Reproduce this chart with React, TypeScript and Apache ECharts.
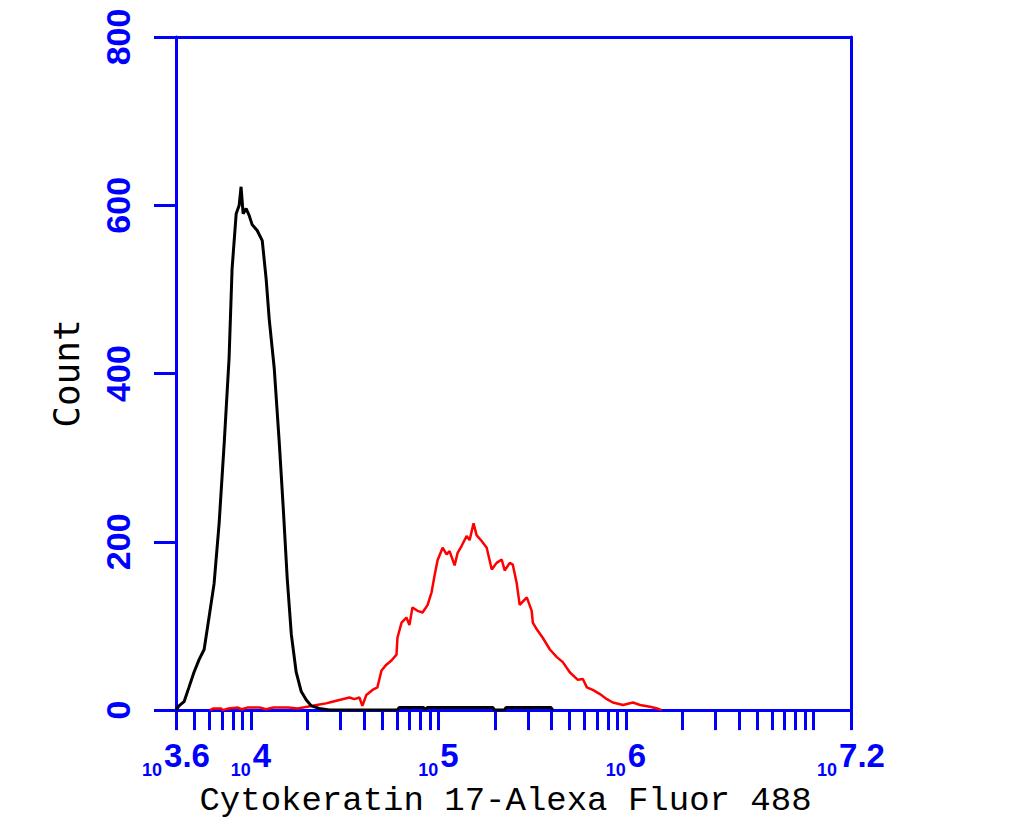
import React, { useEffect, useRef } from "react";
import * as echarts from "echarts";

// ---- data (x as log10 of fluorescence, y as count) ----
const isotypeLog = [
  3.600, 3.616, 3.643, 3.669, 3.696, 3.723, 3.750, 3.776, 3.803, 3.830,
  3.857, 3.883, 3.899, 3.921, 3.937, 3.947, 3.958, 3.974, 3.990, 4.006,
  4.033, 4.060, 4.081, 4.097, 4.124, 4.151, 4.172, 4.193, 4.215, 4.241,
  4.268, 4.295, 4.322, 4.364, 4.418, 4.780, 4.790, 4.920, 4.930, 4.940,
  5.290, 5.300, 5.350, 5.360, 5.600, 5.610,
];
const isotypeCount = [
  0, 5, 10, 27, 45, 60, 72, 110, 150, 222,
  317, 418, 524, 590, 600, 622, 590, 596, 588, 577,
  570, 558, 512, 465, 406, 317, 240, 157, 90, 45,
  22, 12, 5, 2, 0, 0, 3, 3, 1, 3,
  3, 0, 0, 3, 3, 0,
];

const ck17Log = [
  3.780, 3.800, 3.840, 3.850, 3.880, 3.930, 3.950, 3.980, 4.050, 4.080,
  4.120, 4.200, 4.250, 4.300, 4.350, 4.400,
  4.418, 4.471, 4.525, 4.551, 4.578, 4.594, 4.615, 4.648, 4.674, 4.696,
  4.722, 4.749, 4.776, 4.781, 4.803, 4.829, 4.845, 4.861, 4.888, 4.915,
  4.942, 4.963, 4.979, 4.995, 5.022, 5.043, 5.059, 5.086, 5.102, 5.123,
  5.150, 5.166, 5.187, 5.203, 5.230, 5.257, 5.284, 5.310, 5.337, 5.353,
  5.380, 5.396, 5.417, 5.433, 5.471, 5.497, 5.503, 5.524, 5.556, 5.594,
  5.631, 5.663, 5.700, 5.743, 5.770, 5.791, 5.823, 5.861, 5.898, 5.930,
  5.984, 6.037, 6.075, 6.128, 6.166, 6.190,
];
const ck17Count = [
  0, 2, 2, 0, 2, 3, 1, 3, 3, 1,
  3, 3, 2, 4, 6, 8,
  9, 12, 15, 13, 15, 5, 18, 24, 27, 47,
  54, 59, 66, 86, 104, 110, 101, 122, 118, 116,
  125, 140, 160, 178, 193, 185, 189, 172, 187, 195,
  207, 202, 222, 208, 201, 193, 167, 175, 179, 166,
  175, 173, 151, 125, 134, 118, 104, 96, 86, 72,
  63, 57, 45, 36, 37, 27, 24, 19, 13, 9,
  6, 9, 6, 4, 2, 0,
];

const xMinLog = 3.6;
const xMaxLog = 7.2;
const xLabelValues = [3.6, 4, 5, 6, 7.2];
const xLabelTexts = ["3.6", "4", "5", "6", "7.2"];
const yTicks = [0, 200, 400, 600, 800];
const xTitle = "Cytokeratin 17-Alexa Fluor 488";
const yTitle = "Count";

const BLUE = "#0000ff";

function buildMinorTicks(): number[] {
  const out: number[] = [xMinLog];
  for (let d = 3; d <= 7; d++) {
    for (let k = 1; k <= 9; k++) {
      const v = Math.log10(k * Math.pow(10, d));
      if (v > xMinLog + 0.01 && v < xMaxLog - 0.01) out.push(v);
    }
  }
  out.push(xMaxLog);
  return out;
}

export default function App() {
  const ref = useRef<HTMLDivElement>(null);
  useEffect(() => {
    if (!ref.current) return;
    const chart = echarts.init(ref.current, null, { renderer: "svg" });
    const blackData = isotypeLog.map((x, i) => [x, isotypeCount[i]]);
    const redData = ck17Log.map((x, i) => [x, ck17Count[i]]);
    chart.setOption({
      animation: false,
      backgroundColor: "#ffffff",
      grid: { left: 176, right: 175, top: 37, bottom: 110, containLabel: false },
      xAxis: [
        {
          type: "value",
          min: xMinLog,
          max: xMaxLog,
          position: "bottom",
          name: xTitle,
          nameLocation: "middle",
          nameGap: 72,
          nameTextStyle: {
            fontFamily: "Liberation Mono",
            fontSize: 34,
            color: "#000000",
            padding: [0, 16, 0, 0],
          },
          axisLine: { show: true, onZero: false, lineStyle: { color: BLUE, width: 3 } },
          axisTick: {
            show: true,
            customValues: buildMinorTicks(),
            length: 20,
            lineStyle: { color: BLUE, width: 3 },
          },
          axisLabel: {
            show: true,
            customValues: xLabelValues,
            margin: 29,
            formatter: (v: number) => {
              const i = xLabelValues.findIndex((t) => Math.abs(t - v) < 1e-6);
              return "{s|10}{b|" + (i >= 0 ? xLabelTexts[i] : "") + "}";
            },
            rich: {
              s: {
                fontFamily: "Liberation Sans",
                fontWeight: "bold",
                fontSize: 18,
                lineHeight: 18,
                color: BLUE,
                verticalAlign: "bottom",
                padding: [0, 2, 0, 0],
              },
              b: {
                fontFamily: "Liberation Sans",
                fontWeight: "bold",
                fontSize: 33,
                lineHeight: 40,
                color: BLUE,
                verticalAlign: "top",
              },
            },
          },
          splitLine: { show: false },
        },
        {
          type: "value",
          min: xMinLog,
          max: xMaxLog,
          position: "top",
          axisLine: { show: true, onZero: false, lineStyle: { color: BLUE, width: 3 } },
          axisTick: { show: false },
          axisLabel: { show: false },
          splitLine: { show: false },
        },
      ],
      yAxis: [
        {
          type: "value",
          min: 0,
          max: 800,
          interval: 200,
          position: "left",
          name: yTitle,
          nameLocation: "middle",
          nameGap: 92,
          nameRotate: 90,
          nameTextStyle: {
            fontFamily: "DejaVu Sans Mono",
            fontSize: 36,
            color: "#000000",
          },
          axisLine: { show: true, onZero: false, lineStyle: { color: BLUE, width: 3 } },
          axisTick: { show: true, length: 22, lineStyle: { color: BLUE, width: 3 } },
          axisLabel: {
            show: true,
            rotate: 90,
            margin: 41,
            color: BLUE,
            fontFamily: "Liberation Sans",
            fontWeight: "bold",
            fontSize: 34,
            formatter: (v: number) => (yTicks.includes(v) ? String(v) : ""),
          },
          splitLine: { show: false },
        },
        {
          type: "value",
          min: 0,
          max: 800,
          position: "right",
          axisLine: { show: true, onZero: false, lineStyle: { color: BLUE, width: 3 } },
          axisTick: { show: false },
          axisLabel: { show: false },
          splitLine: { show: false },
        },
      ],
      series: [
        {
          name: "Cytokeratin 17",
          type: "line",
          xAxisIndex: 0,
          yAxisIndex: 0,
          data: redData,
          showSymbol: false,
          symbol: "none",
          lineStyle: { color: "#ff0000", width: 2.5 },
          z: 3,
        },
        {
          name: "Isotype control",
          type: "line",
          xAxisIndex: 0,
          yAxisIndex: 0,
          data: blackData,
          showSymbol: false,
          symbol: "none",
          lineStyle: { color: "#000000", width: 3 },
          z: 4,
        },
      ],
    });
    return () => chart.dispose();
  }, []);
  return (
    <div
      ref={ref}
      style={{ position: "fixed", left: 0, top: 0, width: 1026, height: 823 }}
    />
  );
}
